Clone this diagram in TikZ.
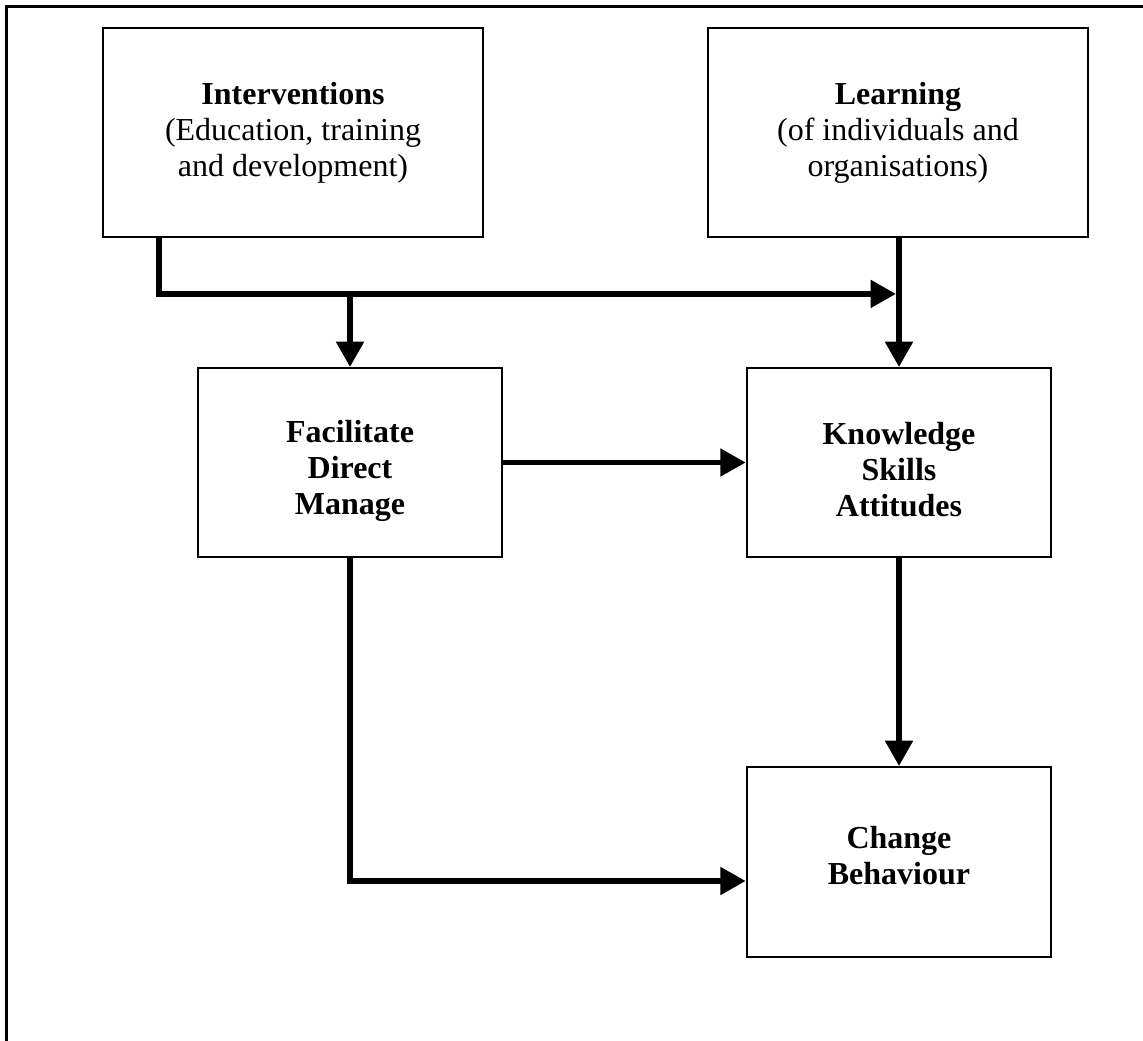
\documentclass[tikz,border=0pt]{standalone}
\usepackage{fontspec}
\setmainfont{Liberation Serif}
\usetikzlibrary{arrows.meta,calc}
\tikzset{
  box/.style={draw, line width=1.4pt, inner sep=0pt, align=center,
    font=\fontsize{24}{27}\selectfont},
  bigbox/.style={box, minimum width=285pt, minimum height=156.75pt},
  midbox/.style={box, minimum width=228.5pt, minimum height=141.75pt},
  lbl/.style={align=center, inner sep=0pt, font=\fontsize{24}{27}\selectfont},
  conn/.style={line width=4.4pt, -{Triangle[length=19pt,width=20pt]}},
  frameline/.style={line width=1.6pt}
}
\begin{document}
\begin{tikzpicture}[x=0.75pt,y=-0.75pt]
\useasboundingbox (0,0) rectangle (1143,1041);
\draw[frameline] (6.5,1041) -- (6.5,6.5) -- (1143,6.5);

\node[bigbox] (int) at (293,132.5) {\textbf{Interventions}\\(Education, training\\and development)};
\node[bigbox] (lrn) at (898,132.5) {\textbf{Learning}\\(of individuals and\\organisations)};
\node[midbox, label={[lbl,yshift=-6.5pt]center:{\textbf{Facilitate}\\\textbf{Direct}\\\textbf{Manage}}}] (fac) at (350,462.5) {};
\node[midbox, label={[lbl,yshift=-5.5pt]center:{\textbf{Knowledge}\\\textbf{Skills}\\\textbf{Attitudes}}}] (know) at (899,462.5) {};
\node[midbox, minimum height=142.5pt, label={[lbl,yshift=5pt]center:{\textbf{Change}\\\textbf{Behaviour}}}] (chg) at (899,862) {};

\coordinate (mid) at ($(lrn.south)+(0,56)$);
\draw[conn] ($(int.south west)+(57,0)$) |- ($(mid)+(-2,0)$);
\draw[conn] (know.north |- lrn.south) -- (know.north);
\draw[conn] (fac.north |- mid) -- (fac.north);
\draw[conn] (fac.east) -- (know.west);
\draw[conn] (know.south) -- (chg.north);
\draw[conn] (fac.south) |- ($(chg.west)+(0,19)$);
\end{tikzpicture}
\end{document}
